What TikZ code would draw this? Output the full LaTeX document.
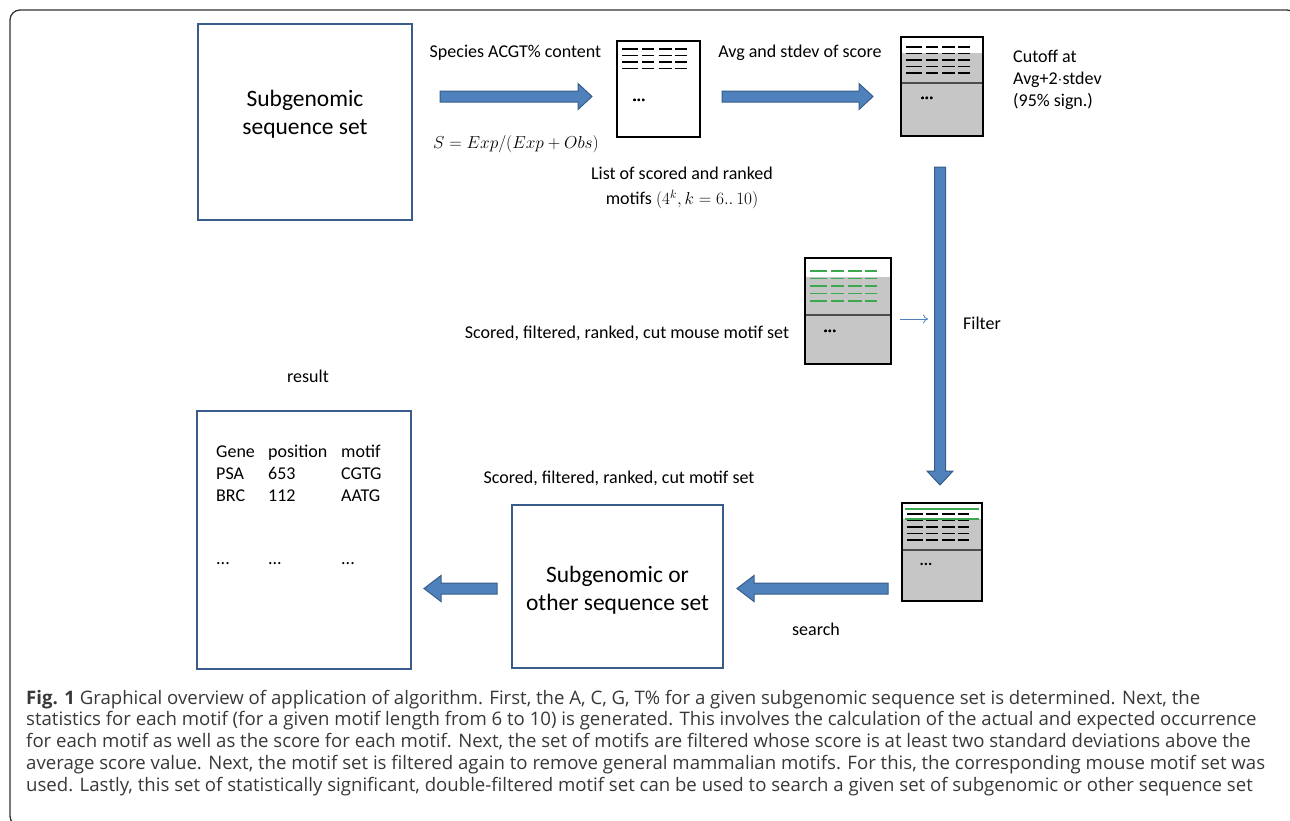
\documentclass[tikz,border=0pt]{standalone}
\usepackage{fontspec}
\setmainfont{Carlito}
\newfontfamily\captionfont{Open Sans}
\usetikzlibrary{calc,arrows.meta}

\definecolor{boxblue}{RGB}{56,93,138}
\definecolor{arrowblue}{RGB}{79,129,189}
\definecolor{docgray}{RGB}{198,198,198}
\definecolor{motifgreen}{RGB}{60,168,80}

\tikzset{
  seqbox/.style={draw=boxblue, line width=2pt, inner sep=0pt},
  seqtext/.style={align=center, inner sep=0pt, font=\fontsize{23.5}{28}\selectfont},
  lbl/.style={font=\fontsize{18}{22}\selectfont, inner sep=0pt},
  capline/.style={font=\captionfont\fontsize{18.6}{21}\selectfont, text=black!78,
    inner sep=0pt, anchor=base west},
  docbox/.style={draw=black, line width=1.4pt, inner sep=0pt},
  dots/.style={font=\fontsize{16}{16}\selectfont\bfseries, inner sep=0pt},
  fatarrow/.style={fill=arrowblue, draw=boxblue, line width=1pt},
  thinarrow/.style={draw=arrowblue, line width=0.8pt, -{To[length=5pt, width=9pt]}},
}
\setlength{\tabcolsep}{0pt}

\begin{document}
\begin{tikzpicture}[x=1pt, y=-1pt]
    \useasboundingbox (0,0) rectangle (1290,820);
    \draw[line width=1.3pt, black!80, rounded corners=10pt] (10,10) rectangle (1297,826);

    % one row of four dashes, #1 = y, #2 = colour, #3 = list width
    \def\docrow#1#2#3{
        \foreach \a/\b in {5/21,25/37,41/54,57/69}
            \draw[#2, line width=1.6pt] ({\a*#3/82},#1) -- ({\b*#3/82},#1);
    }
    % name, left, top, width, height, kind
    \def\drawdoc#1#2#3#4#5#6{
        \begin{scope}[shift={(#2,#3)}]
            \ifnum#6=0 \def\docfill{white}\else \def\docfill{docgray}\fi
            \node[docbox, fill=\docfill, minimum width=#4pt, minimum height=#5pt] (#1) at ({#4/2},{#5/2}) {};
            \ifnum#6=0 % plain ranked list
                \foreach \r in {8,14.5,21,27.5} \docrow{\r}{black}{#4}
                \node[dots] (#1d) at (22,59) {...};
            \fi
            \ifnum#6=1 % cut list
                \fill[white] (0.7,0.7) rectangle ({#4-0.7},16);
                \draw[line width=1.2pt, black!70] (0.7,46) -- ({#4-0.7},46);
                \foreach \r in {10,16.5,23,29.5,36} \docrow{\r}{black}{#4}
                \node[dots] (#1d) at (26,61) {...};
            \fi
            \ifnum#6=2 % mouse list
                \fill[white] (0.7,0.7) rectangle ({#4-0.7},19);
                \draw[line width=1.2pt, black!70] (0.7,57) -- ({#4-0.7},57);
                \foreach \r in {13,20.5,28,35.5,43} \docrow{\r}{motifgreen}{#4}
                \node[dots] (#1d) at (25,73) {...};
            \fi
            \ifnum#6=3 % double filtered list
                \fill[white] (0.7,0.7) rectangle ({#4-0.7},16);
                \draw[line width=1.2pt, black!70] (0.7,47) -- ({#4-0.7},47);
                \foreach \r in {11,17.5,24,30.5,37} \docrow{\r}{black}{#4}
                \draw[motifgreen, line width=1.2pt] (3,6) -- ({#4-3},6);
                \draw[motifgreen, line width=1.2pt] (3,16) -- ({#4-3},16);
                \node[dots] (#1d) at (24,61) {...};
            \fi
        \end{scope}
    }
    % block arrow, #1 = tail, #2 = tip, #3 = head length
    \def\fatarrow#1#2#3{
        \coordinate (hb) at ($(#2)!#3pt!(#1)$);
        \draw[fatarrow] ($(#1)!5.5pt!90:(#2)$) -- ($(hb)!5.5pt!90:(#2)$) -- ($(hb)!13pt!90:(#2)$)
            -- (#2) -- ($(hb)!13pt!-90:(#2)$) -- ($(hb)!5.5pt!-90:(#2)$) -- ($(#1)!5.5pt!-90:(#2)$) -- cycle;
    }

    % top row
    \node[seqbox, minimum width=214pt, minimum height=196pt] (seqset) at (305,122) {};
    \node[seqtext] (seqsettext) at (305,114) {Subgenomic\\sequence set};
    \drawdoc{list}{617}{41}{83}{96}{0}
    \drawdoc{cut}{901}{37}{82}{99}{1}

    \node[lbl, anchor=base] (content) at (515.5,57) {Species ACGT\% content};
    \node[lbl, anchor=base] (score) at (516,148) {$S = Exp/(Exp + Obs)$};
    \node[lbl, anchor=base] (avg) at (800,57) {Avg and stdev of score};
    \node[lbl, align=center] (listlbl) at (682,188) {List of scored and ranked\\[3pt]motifs $(4^{k}, k = 6..\,10)$};
    \node[lbl, anchor=west, align=left] (cutoff) at (1013,80) {Cutoff at\\Avg+2$\cdot$stdev\\(95\% sign.)};

    \coordinate (a1s) at (440,96.5);
    \coordinate (a1e) at (592,96.5);
    \coordinate (a2s) at (722,96.5);
    \coordinate (a2e) at (873,96.5);
    \fatarrow{a1s}{a1e}{14}
    \fatarrow{a2s}{a2e}{14}

    % filter step
    \drawdoc{mouse}{805}{258}{86}{106}{2}
    \node[lbl, anchor=base] (mouselbl) at (627,338) {Scored, filtered, ranked, cut mouse motif set};
    \node[lbl, anchor=base west] (filter) at (963,329) {Filter};
    \coordinate (a3s) at (940,167);
    \coordinate (a3e) at (940,485);
    \fatarrow{a3s}{a3e}{14}
    \coordinate (t1s) at (900,319);
    \coordinate (t1e) at (928,319);
    \draw[thinarrow] (t1s) -- (t1e);

    % search step
    \drawdoc{final}{902}{503}{80}{98}{3}
    \node[seqbox, minimum width=211pt, minimum height=163pt] (otherset) at (617.5,586.5) {};
    \node[seqtext] (othersettext) at (617.5,590) {Subgenomic or\\other sequence set};
    \node[lbl, anchor=base] (setlbl) at (619,483) {Scored, filtered, ranked, cut motif set};
    \node[lbl, anchor=base] (search) at (816,635) {search};
    \coordinate (a4s) at (888,588.5);
    \coordinate (a4e) at (737,588.5);
    \coordinate (a5s) at (497,588.5);
    \coordinate (a5e) at (424,588.5);
    \fatarrow{a4s}{a4e}{17}
    \fatarrow{a5s}{a5e}{17}

    % result table
    \node[seqbox, minimum width=214pt, minimum height=258pt] (result) at (304,540) {};
    \node[lbl, anchor=base] (resultlbl) at (308,382) {result};
    \node[lbl, anchor=base west] (table) at (216,457) {\begin{tabular}[t]{@{}p{52pt}p{73pt}l@{}}
        Gene & position & motif\\ PSA & 653 & CGTG\\ BRC & 112 & AATG\end{tabular}};
    \node[lbl, anchor=base west] (tabledots) at (216,564) {\begin{tabular}[t]{@{}p{52pt}p{73pt}l@{}}
        ... & ... & ...\end{tabular}};

    % caption
    \node[capline] (cap1) at (26,704) {\textbf{Fig. 1} Graphical overview of application of algorithm. First, the A, C, G, T\% for a given subgenomic sequence set is determined. Next, the};
    \node[capline] (cap2) at (26,725.75) {statistics for each motif (for a given motif length from 6 to 10) is generated. This involves the calculation of the actual and expected occurrence};
    \node[capline] (cap3) at (26,747.5) {for each motif as well as the score for each motif. Next, the set of motifs are filtered whose score is at least two standard deviations above the};
    \node[capline] (cap4) at (26,769.25) {average score value. Next, the motif set is filtered again to remove general mammalian motifs. For this, the corresponding mouse motif set was};
    \node[capline] (cap5) at (26,791) {used. Lastly, this set of statistically significant, double-filtered motif set can be used to search a given set of subgenomic or other sequence set};
\end{tikzpicture}
\end{document}
